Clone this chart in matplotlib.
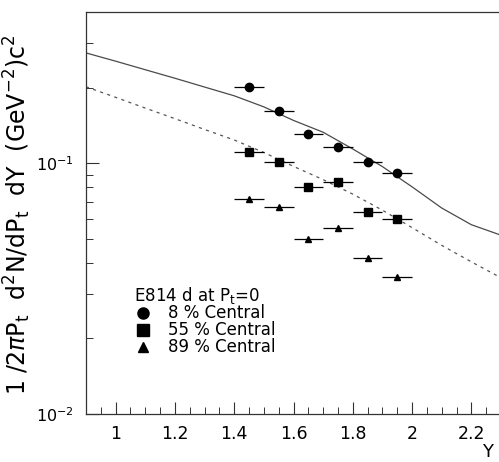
import matplotlib
matplotlib.use("Agg")
import matplotlib.pyplot as plt
from matplotlib.ticker import LogLocator, MultipleLocator, NullFormatter, FixedLocator, FixedFormatter, FuncFormatter

# Data
rapidity = [1.45, 1.55, 1.65, 1.75, 1.85, 1.95]
y_err = 0.05
central_8 = [0.201, 0.161, 0.131, 0.116, 0.101, 0.091]
central_55 = [0.111, 0.101, 0.080, 0.084, 0.0637, 0.0597]
central_89 = [0.0718, 0.0667, 0.050, 0.055, 0.042, 0.035]

curve_x = [0.9, 1.0, 1.1, 1.2, 1.3, 1.4, 1.5, 1.6, 1.7, 1.8, 1.9, 2.0, 2.1, 2.2, 2.3]
curve_solid = [0.2748, 0.2547, 0.2355, 0.2178, 0.2009, 0.1854, 0.1675, 0.1479, 0.1327,
               0.1138, 0.0968, 0.0804, 0.0662, 0.0568, 0.0516]
curve_dashed = [0.2014, 0.1828, 0.1656, 0.1503, 0.1361, 0.1236, 0.1102, 0.0970, 0.0859,
                0.0752, 0.0649, 0.0553, 0.0470, 0.0404, 0.0349]

legend_title = r"E814 d at P$_\mathrm{t}$=0"
labels = ["8 % Central", "55 % Central", "89 % Central"]
markers = ["o", "s", "^"]

fig = plt.figure(figsize=(4.99, 4.62), dpi=100)
L, R, B, T = 86, 501, 414, 12
W, H = 499, 462
ax = fig.add_axes([L / W, (H - B) / H, (R - L) / W, (B - T) / H])

def axfrac(px, py):
    return (px - L) / (R - L), (B - py) / (B - T)

ax.plot(curve_x, curve_solid, color="#4a4a4a", lw=0.9, ls="-")
ax.plot(curve_x, curve_dashed, color="#555555", lw=0.9, ls=(0, (2.5, 3.5)))

for vals, mk, msz in zip([central_8, central_55, central_89], markers, [6, 6, 5]):
    ax.errorbar(rapidity, vals, xerr=y_err, fmt=mk, color="black", ms=msz,
                elinewidth=0.9, capsize=0)

ax.set_yscale("log")
ax.set_xlim(0.9, 2.3)
ax.set_ylim(0.01, 0.4)

ax.xaxis.set_major_locator(MultipleLocator(0.2))
ax.xaxis.set_minor_locator(MultipleLocator(0.05))
ax.xaxis.set_major_formatter(FuncFormatter(lambda v, p: f"{v:g}"))
ax.yaxis.set_major_locator(FixedLocator([0.01, 0.1]))
ax.yaxis.set_major_formatter(FixedFormatter([r"10$^{-2}$", r"10$^{-1}$"]))
ax.yaxis.set_minor_locator(LogLocator(base=10, subs=range(2, 10)))
ax.yaxis.set_minor_formatter(NullFormatter())

ax.tick_params(axis="both", which="both", direction="in", top=False, right=False,
               color="#333333")
ax.tick_params(axis="both", which="major", length=9, width=0.8)
ax.tick_params(axis="both", which="minor", length=5, width=0.7)
ax.tick_params(axis="x", labelsize=12.5, pad=8)
ax.tick_params(axis="y", labelsize=11.5, pad=9)

for s in ["left", "bottom", "top"]:
    ax.spines[s].set_linewidth(0.9)
    ax.spines[s].set_color("#333333")
ax.spines["right"].set_visible(False)

ax.set_ylabel(r"1 /2$\pi$P$_\mathrm{t}$  d$^2$N/dP$_\mathrm{t}$  dY  (GeV$^{-2}$)c$^2$",
              fontsize=17)
ax.yaxis.set_label_coords(-0.128, 0.495)
fig.text(488 / W, 1 - 452 / H, "Y", fontsize=13, ha="center", va="center")

# Legend (drawn as text + marker symbols)
tx, ty = axfrac(134, 295)
ax.text(tx, ty, legend_title, transform=ax.transAxes, fontsize=12, ha="left", va="center")
for i, (lab, mk) in enumerate(zip(labels, markers)):
    py = [313, 330, 347][i]
    mx, my = axfrac(143, py)
    ax.plot([mx], [my], marker=mk, color="black", ms=[8, 8, 7][i], ls="none",
            transform=ax.transAxes, clip_on=False)
    lx, ly = axfrac(168, py)
    ax.text(lx, ly, lab, transform=ax.transAxes, fontsize=12, ha="left", va="center")

fig.savefig("out.png", dpi=100)
